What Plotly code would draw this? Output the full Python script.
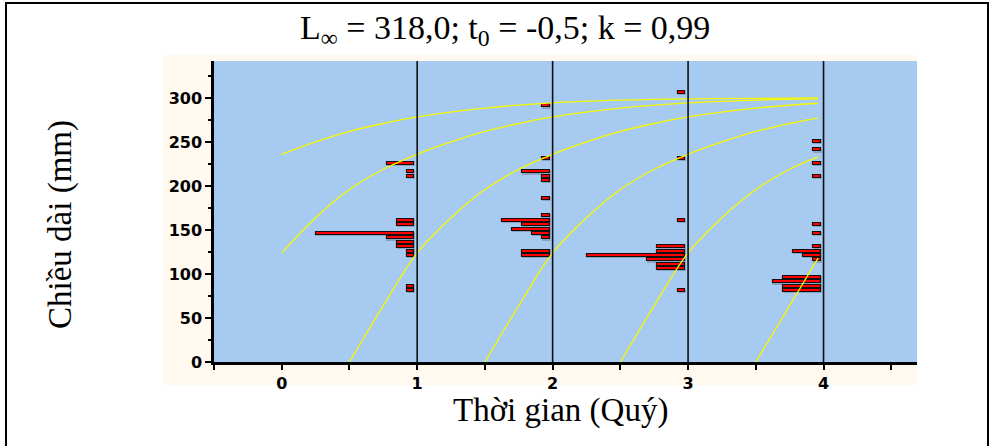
import plotly.graph_objects as go

# ---------------- data ----------------
quarters = [1, 2, 3, 4]

# length-frequency histograms (length class in mm, count) at each quarter
q1_len = [226, 216, 211, 161, 156, 146, 141, 136, 131, 126, 121, 86, 81]
q1_cnt = [3, 1, 1, 2, 2, 10, 3, 2, 2, 1, 1, 1, 1]
q2_len = [291, 231, 216, 211, 206, 186, 166, 161, 156, 151, 146, 141, 126, 121]
q2_cnt = [1, 1, 3, 1, 1, 1, 1, 5, 3, 4, 2, 1, 3, 3]
q3_len = [306, 231, 161, 131, 126, 121, 116, 111, 106, 81]
q3_cnt = [1, 1, 1, 3, 3, 10, 4, 3, 3, 1]
q4_len = [251, 241, 226, 211, 156, 146, 131, 126, 121, 116, 96, 91, 86, 81]
q4_cnt = [1, 1, 1, 1, 1, 1, 1, 3, 2, 1, 4, 5, 4, 4]
hist_len = [q1_len, q2_len, q3_len, q4_len]
hist_cnt = [q1_cnt, q2_cnt, q3_cnt, q4_cnt]

# growth curves (time in quarters, length in mm)
curveA_t = [0, 0.25, 0.5, 0.75, 1, 1.5, 2, 2.5, 3, 3.5, 3.96]
curveA_L = [236, 250, 262, 271, 278.5, 288.5, 294.5, 297.5, 299, 299.5, 300]
curveB_t = [0, 0.25, 0.5, 0.75, 1, 1.25, 1.5, 1.75, 2, 2.5, 3, 3.5, 3.96]
curveB_L = [124, 164, 196, 219, 236, 250, 262, 271, 278.5, 288.5, 294.5, 297.5, 299]
curveC_t = [0.5, 0.75, 1, 1.25, 1.5, 1.75, 2, 2.25, 2.5, 2.75, 3, 3.5, 3.96]
curveC_L = [0, 64, 124, 164, 196, 219, 236, 250, 262, 271, 278.5, 288.5, 294]
curveD_t = [1.5, 1.75, 2, 2.25, 2.5, 2.75, 3, 3.25, 3.5, 3.75, 3.96]
curveD_L = [0, 64, 124, 164, 196, 219, 236, 250, 262, 271, 277.5]
curveE_t = [2.5, 2.75, 3, 3.25, 3.5, 3.75, 3.96]
curveE_L = [0, 64, 124, 164, 196, 219, 233]
curveF_t = [3.5, 3.75, 3.96]
curveF_L = [0, 64, 118]
curves = [(curveA_t, curveA_L), (curveB_t, curveB_L), (curveC_t, curveC_L),
          (curveD_t, curveD_L), (curveE_t, curveE_L), (curveF_t, curveF_L)]

x_ticks = [0, 1, 2, 3, 4]
y_ticks = [0, 50, 100, 150, 200, 250, 300]

title_text = "L<sub>∞</sub> = 318,0; t<sub>0</sub> = -0,5; k = 0,99"
x_title = "Thời gian (Quý)"
y_title = "Chiều dài (mm)"

# ---------------- styling ----------------
COUNT_UNIT = 0.0748     # x-units per fish
GAP = 0.019             # trim for outline
OFFSET = 0.021          # distance of bar right end from the quarter line
BLUE = "#A6CAF0"
CREAM = "#FFF9EF"

fig = go.Figure()

for q, lens, cnts in zip(quarters, hist_len, hist_cnt):
    widths = [c * COUNT_UNIT - GAP for c in cnts]
    bases = [q - OFFSET - w for w in widths]
    # soft grey shadow
    fig.add_trace(go.Bar(
        orientation="h", y=[l - 0.5 for l in lens], x=[w + 0.009 for w in widths],
        base=[b - 0.001 for b in bases], width=5.0,
        marker=dict(color="rgba(70,70,70,0.28)", line=dict(width=0)),
        showlegend=False, hoverinfo="skip"))
    fig.add_trace(go.Bar(
        orientation="h", y=lens, x=widths, base=bases, width=3.5,
        marker=dict(color="#FF0000", line=dict(color="#111111", width=1.1)),
        showlegend=False))

for t, L in curves:
    fig.add_trace(go.Scatter(
        x=t, y=L, mode="lines", line=dict(color="#F8F800", width=1.3, shape="spline"),
        showlegend=False, hoverinfo="skip"))

# plot geometry (px): plot area x 214..917, y 61..362
L_M, R_M, T_M, B_M = 214, 80, 61, 84
W, H = 997, 446
pw, ph = W - L_M - R_M, H - T_M - B_M

def px_x(p):
    return (p - L_M) / pw

def px_y(p):
    return (H - B_M - p) / ph

shapes = [
    # cream panel
    dict(type="rect", xref="paper", yref="paper", x0=px_x(163), x1=1.0,
         y0=px_y(385), y1=px_y(55), fillcolor=CREAM, line=dict(width=0), layer="below"),
    # blue plot area
    dict(type="rect", xref="paper", yref="paper", x0=0, x1=1, y0=0, y1=1,
         fillcolor=BLUE, line=dict(width=0), layer="below"),
    # outer frame
    dict(type="rect", xref="paper", yref="paper", x0=px_x(6), x1=px_x(988),
         y0=px_y(460), y1=px_y(3), line=dict(color="black", width=2),
         fillcolor="rgba(0,0,0,0)", layer="above"),
]
for q in quarters:
    shapes.append(dict(type="line", xref="x", yref="paper", x0=q, x1=q, y0=0, y1=1,
                       line=dict(color="#111111", width=1.6), layer="above"))

tick_font = dict(family="DejaVu Sans", size=16, color="black", weight="bold")
serif = "Liberation Serif, Times New Roman, serif"

fig.update_layout(
    width=W, height=H,
    margin=dict(l=L_M, r=R_M, t=T_M, b=B_M),
    paper_bgcolor="white", plot_bgcolor="rgba(0,0,0,0)",
    barmode="overlay", bargap=0,
    shapes=shapes,
    showlegend=False,
    annotations=[
        dict(text=title_text, xref="paper", yref="paper", x=px_x(505), y=px_y(30),
             xanchor="center", yanchor="middle", showarrow=False,
             font=dict(family=serif, size=34, color="black")),
        dict(text=x_title, xref="paper", yref="paper", x=px_x(560), y=px_y(410),
             xanchor="center", yanchor="middle", showarrow=False,
             font=dict(family=serif, size=33, color="black")),
        dict(text=y_title, xref="paper", yref="paper", x=px_x(60), y=px_y(225),
             xanchor="center", yanchor="middle", showarrow=False, textangle=-90,
             font=dict(family=serif, size=33, color="black")),
    ],
)

fig.update_xaxes(
    range=[-0.5, 4.69], tickvals=x_ticks, ticktext=[str(v) for v in x_ticks],
    ticks="outside", ticklen=5, tickwidth=2, tickcolor="black",
    minor=dict(dtick=0.5, tick0=0, ticks="outside", ticklen=5, tickwidth=2, tickcolor="black"),
    showline=True, linecolor="black", linewidth=2.5,
    showgrid=False, zeroline=False, tickfont=tick_font, fixedrange=True)
fig.update_yaxes(
    range=[0, 342], tickvals=y_ticks, ticktext=[str(v) for v in y_ticks],
    ticks="outside", ticklen=6, tickwidth=2, tickcolor="black",
    minor=dict(dtick=25, tick0=0, ticks="outside", ticklen=3, tickwidth=2, tickcolor="black"),
    showline=True, linecolor="black", linewidth=2.5,
    showgrid=False, zeroline=False, tickfont=tick_font, fixedrange=True)

fig.write_html("out.html")
